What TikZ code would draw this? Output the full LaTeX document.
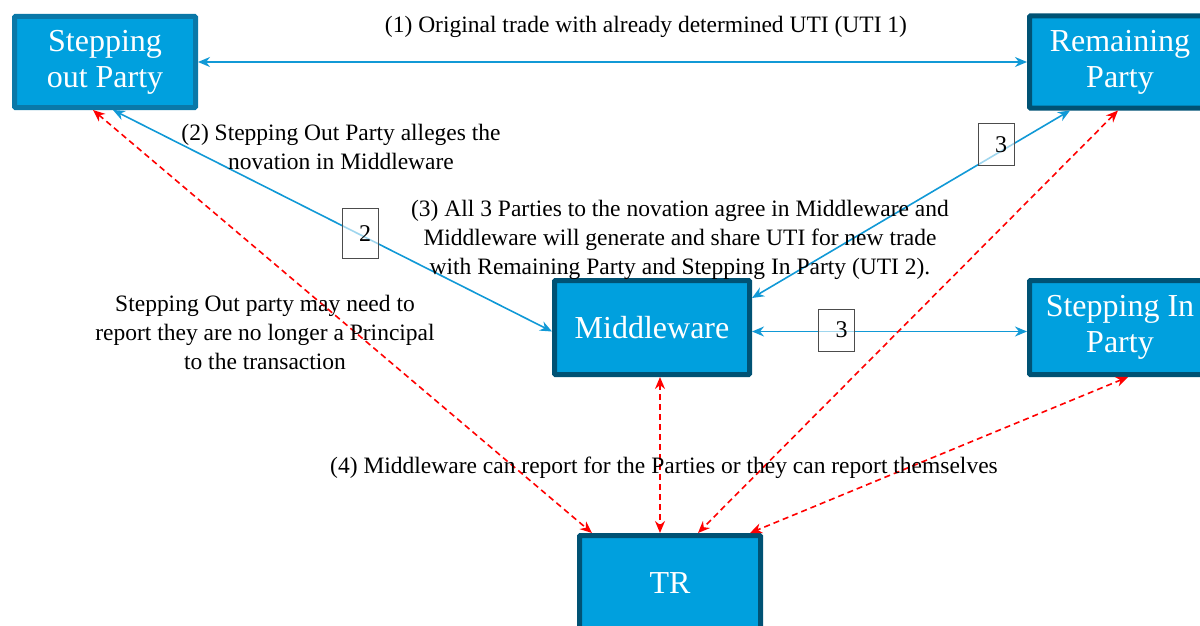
\documentclass[tikz,border=0pt]{standalone}
\usepackage{fontspec}
\setmainfont{Liberation Serif}
\usetikzlibrary{arrows.meta}
\definecolor{boxfill}{HTML}{00A0DE}
\definecolor{boxline}{HTML}{005274}
\definecolor{boxlinelight}{HTML}{0A78A8}
\definecolor{flow}{HTML}{1199D6}
\tikzset{
  party/.style={draw=boxline, line width=5pt, fill=boxfill, text=white,
    align=center, font=\fontsize{32}{36}\selectfont, rounded corners=1pt},
  flowline/.style={flow, line width=1.6pt, {Stealth[length=12pt,width=10pt]}-{Stealth[length=12pt,width=10pt]}},
  report/.style={red, dashed, dash pattern=on 6pt off 4pt, line width=1.6pt,
    {Stealth[length=12pt,width=10pt]}-{Stealth[length=12pt,width=10pt]}},
  stepno/.style={draw=black!70, line width=0.8pt, fill=white, fill opacity=0.6,
    text opacity=1, minimum width=36pt, minimum height=50pt, inner sep=0pt,
    font=\fontsize{24}{28}\selectfont},
  note/.style={align=center, font=\fontsize{23.5}{29}\selectfont, inner sep=0pt}
}
\begin{document}
\begin{tikzpicture}[x=1pt,y=-1pt]
  \useasboundingbox (0,0) rectangle (1200,626);
  \draw
    (105,62) node[party, draw=boxlinelight, minimum width=181pt, minimum height=91pt] (sop){Stepping\\out Party}
    (1120,62) node[party, minimum width=181pt, minimum height=92pt] (rp){Remaining\\Party}
    (652,327.5) node[party, minimum width=195pt, minimum height=94pt] (mw){Middleware}
    (1120,327.5) node[party, minimum width=181pt, minimum height=94pt] (sip){Stepping In\\Party}
    (670,583) node[party, minimum width=181pt, minimum height=95pt] (tr){TR};
  % blue flows
  \begin{scope}[flowline]
    \draw (sop.east) to (rp.west);
    \draw ([xshift=8pt]sop.south) to ([yshift=-4pt]mw.west);
    \draw ([yshift=29.5pt]mw.east) to ([xshift=-50pt]rp.south);
    \draw ([yshift=-4pt]mw.east) to ([yshift=-4pt]sip.west);
  \end{scope}
  % reporting to TR
  \begin{scope}[report]
    \draw ([xshift=-12pt]sop.south) to ([xshift=-78pt]tr.north);
    \draw ([xshift=8pt]mw.south) to ([xshift=-10pt]tr.north);
    \draw ([xshift=-2pt]rp.south) to ([xshift=28pt]tr.north);
    \draw ([xshift=8pt]sip.south) to ([xshift=80pt]tr.north);
  \end{scope}
  % step numbers
  \node[stepno] (n2) at (360,233.5) {\hspace*{10pt}2};
  \node[stepno, minimum height=42pt] (n3a) at (996,144.5) {\hspace*{10pt}3};
  \node[stepno, minimum height=42pt] (n3b) at (836.5,330) {\hspace*{10pt}3};
  % texts
  \node[note] (t1) at (646,27) {(1) Original trade with already determined UTI (UTI 1)};
  \node[note] (t2) at (341,147) {(2) Stepping Out Party alleges the\\novation in Middleware};
  \node[note] (t3) at (680,239.5) {(3) All 3 Parties to the novation agree in Middleware and\\Middleware will generate and share UTI for new trade\\with Remaining Party and Stepping In Party (UTI 2).};
  \node[note] (t5) at (265,332.5) {Stepping Out party may need to\\report they are no longer a Principal\\to the transaction};
  \node[note] (t4) at (664,468) {(4) Middleware can report for the Parties or they can report themselves};
\end{tikzpicture}
\end{document}
